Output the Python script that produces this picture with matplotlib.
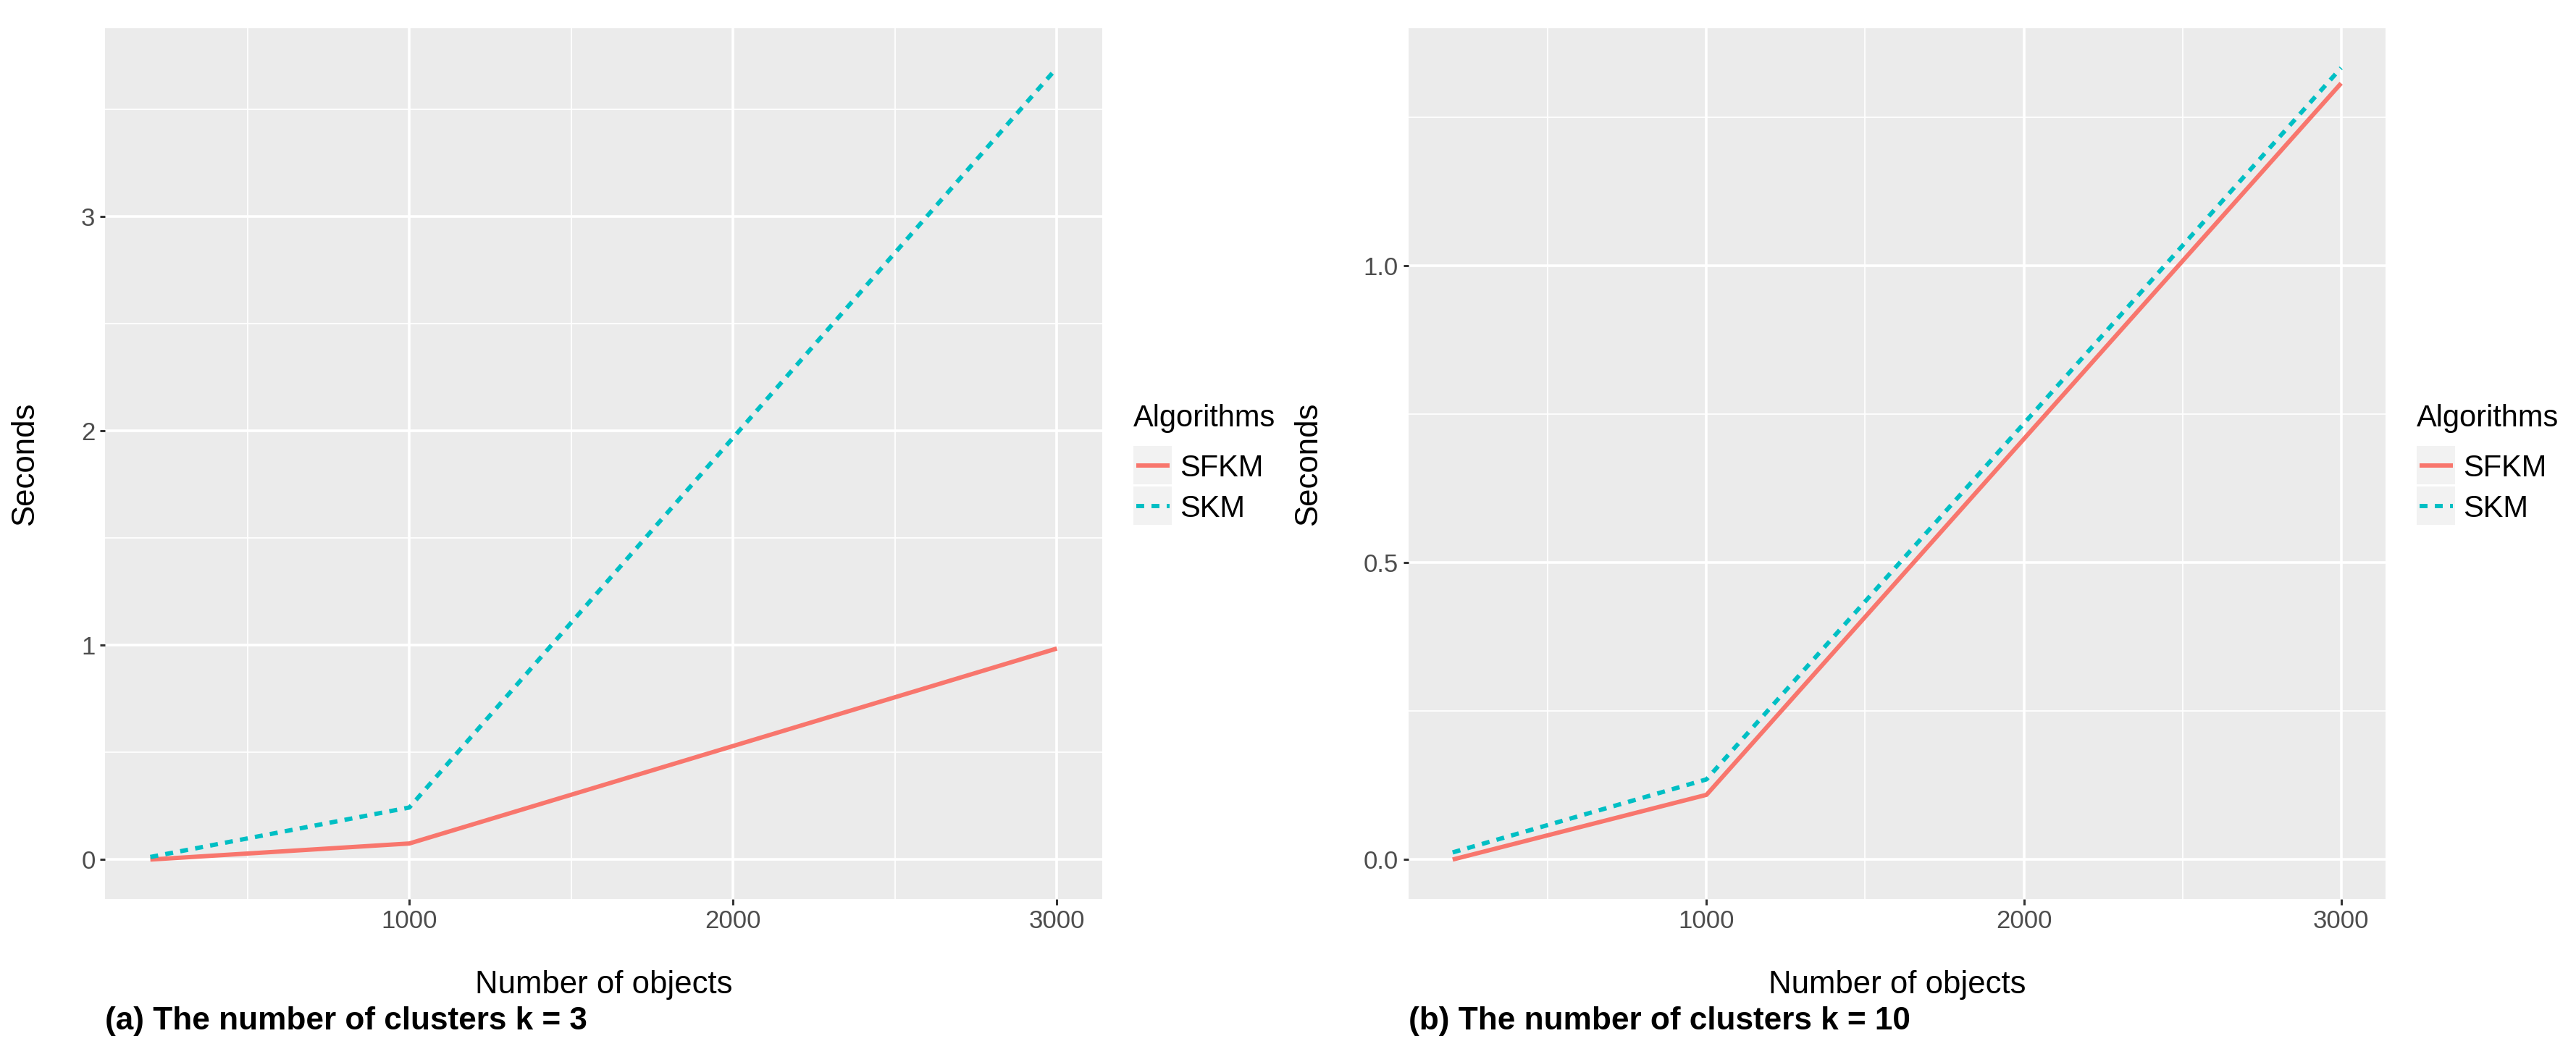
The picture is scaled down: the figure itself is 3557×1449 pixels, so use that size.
import numpy as np
import matplotlib.pyplot as plt
from matplotlib.patches import Rectangle
from matplotlib.lines import Line2D

plt.rcParams['font.family'] = ['Liberation Sans', 'DejaVu Sans']

# data
n_objects = [200, 1000, 3000]
sfkm_k3 = [0.0, 0.075, 0.985]
skm_k3 = [0.012, 0.243, 3.695]
sfkm_k10 = [0.0, 0.109, 1.307]
skm_k10 = [0.012, 0.135, 1.333]

algorithms = ['SFKM', 'SKM']
colors = ['#F8766D', '#00BFC4']
styles = ['-', (0, (1.83, 1.67))]

W, H = 3557, 1449
DPI = 100
fig = plt.figure(figsize=(W / DPI, H / DPI), dpi=DPI)

def px(v):
    return v * 72.0 / DPI

def add_panel(left, right, top, bottom, series, yticks, yminor, yfmt,
              title_x, legend_x, caption):
    ax = fig.add_axes([left / W, 1 - bottom / H, (right - left) / W, (bottom - top) / H])
    ax.set_facecolor('#EBEBEB')
    for vals, c, ls in zip(series, colors, styles):
        ax.plot(n_objects, vals, color=c, linestyle=ls, lw=px(6),
                solid_capstyle='butt', dash_capstyle='butt', zorder=3)
    xs = np.array(n_objects, float)
    ys = np.concatenate([np.array(s, float) for s in series])
    dx = 0.05 * (xs.max() - xs.min())
    dy = 0.05 * (ys.max() - ys.min())
    ax.set_xlim(xs.min() - dx, xs.max() + dx)
    ax.set_ylim(ys.min() - dy, ys.max() + dy)
    ax.set_xticks([1000, 2000, 3000])
    ax.set_xticks([500, 1500, 2500], minor=True)
    ax.set_yticks(yticks)
    ax.set_yticklabels([yfmt % t for t in yticks])
    ax.set_yticks(yminor, minor=True)
    ax.grid(which='major', color='white', lw=px(3.6))
    ax.grid(which='minor', color='white', lw=px(1.8))
    ax.set_axisbelow(True)
    for s in ax.spines.values():
        s.set_visible(False)
    ax.tick_params(which='major', length=px(7.5), width=px(3), color='#333333',
                   labelsize=25, labelcolor='#4D4D4D', pad=px(6))
    ax.tick_params(which='minor', length=0)

    # axis titles
    fig.text((left + right) / 2 / W, 1 - 1372 / H, 'Number of objects',
             ha='center', va='baseline', fontsize=31.5, color='black')
    fig.text(title_x / W, 1 - (top + bottom) / 2 / H, 'Seconds', rotation=90,
             ha='center', va='center', fontsize=31.5, color='black')
    fig.text(left / W, 1 - 1422 / H, caption, ha='left', va='baseline',
             fontsize=31.8, fontweight='bold', color='black')

    # legend
    fig.text(legend_x / W, 1 - 589 / H, 'Algorithms', ha='left', va='baseline',
             fontsize=30, color='black')
    for i, (name, c, ls) in enumerate(zip(algorithms, colors, styles)):
        y0 = 616 + i * 56
        fig.patches.append(Rectangle((legend_x / W, 1 - (y0 + 53) / H), 53 / W, 53 / H,
                                     transform=fig.transFigure, facecolor='#F2F2F2',
                                     edgecolor='none'))
        yc = 1 - (y0 + 26.5) / H
        fig.lines.append(Line2D([(legend_x + 4) / W, (legend_x + 50) / W], [yc, yc],
                                transform=fig.transFigure, color=c, linestyle=ls,
                                lw=px(6), solid_capstyle='butt', dash_capstyle='butt'))
        fig.text((legend_x + 64) / W, yc, name, ha='left', va='center_baseline',
                 fontsize=30, color='black')
    return ax

add_panel(145, 1522, 39, 1242, [sfkm_k3, skm_k3], [0, 1, 2, 3],
          [0.5, 1.5, 2.5, 3.5], '%d', 35, 1565,
          '(a) The number of clusters k = 3')
add_panel(1944.5, 3294, 39, 1242, [sfkm_k10, skm_k10], [0.0, 0.5, 1.0],
          [0.25, 0.75, 1.25], '%.1f', 1807, 3337,
          '(b) The number of clusters k = 10')

fig.savefig('out.png', dpi=DPI, facecolor='white')
